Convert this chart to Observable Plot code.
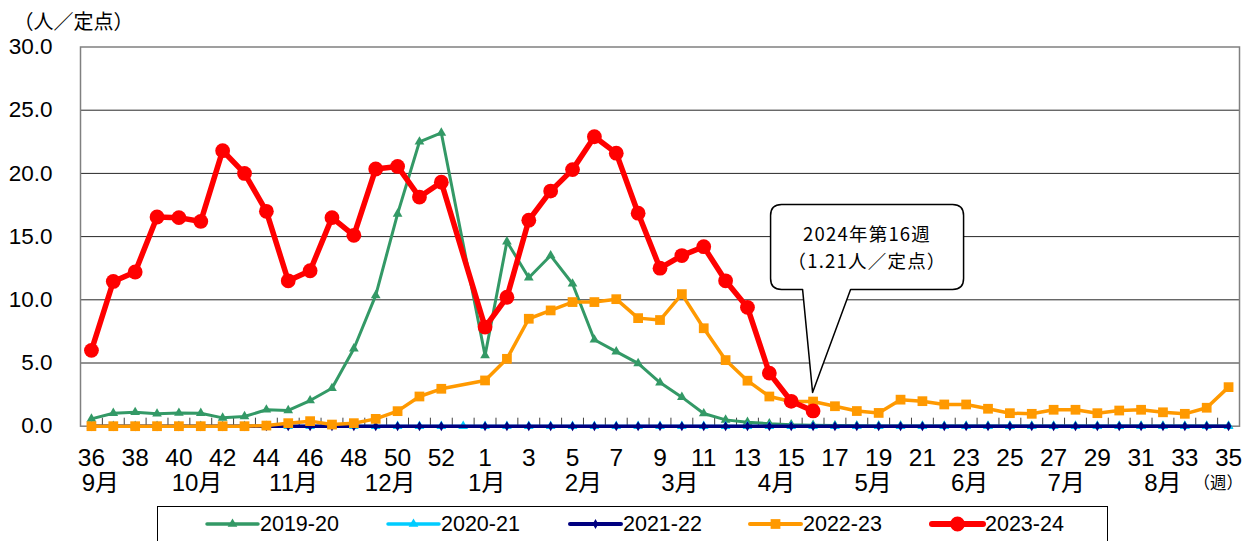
<!DOCTYPE html>
<html><head><meta charset="utf-8">
<script src="https://cdn.jsdelivr.net/npm/d3@7"></script>
<script src="https://cdn.jsdelivr.net/npm/@observablehq/plot@0.6"></script>
<style>
body{margin:0;background:#fff;}
#wrap{position:relative;width:1244px;height:541px;overflow:hidden;background:#fff;font-family:"Liberation Sans",Arial,"Noto Sans CJK JP",sans-serif;}
#chart{position:absolute;left:0;top:0;}
#legend{position:absolute;left:0;top:0;}
</style></head>
<body><div id="wrap"><div id="chart"></div><svg id="legend" width="1244" height="541"></svg></div>
<script>
// ---- data ----
const weeks = [36,37,38,39,40,41,42,43,44,45,46,47,48,49,50,51,52,53,1,2,3,4,5,6,7,8,9,10,11,12,13,14,15,16,17,18,19,20,21,22,23,24,25,26,27,28,29,30,31,32,33,34,35];
const tickLabels = [36,38,40,42,44,46,48,50,52,1,3,5,7,9,11,13,15,17,19,21,23,25,27,29,31,33,35];
const monthLabels = ["9月","10月","11月","12月","1月","2月","3月","4月","5月","6月","7月","8月"];
const seasonNames = ["2019-20","2020-21","2021-22","2022-23","2023-24"];

const v2019_20 = [0.58,1.03,1.1,0.98,1.04,1.03,0.66,0.77,1.3,1.25,2.03,3.0,6.13,10.35,16.8,22.5,23.2,null,
  5.6,14.6,11.75,13.5,11.27,6.84,5.9,4.97,3.45,2.3,1.0,0.5,0.32,0.2,0.12,0.08,0.05,0.03,0.02,0.02,0.01,0.01,0.01,0.01,0.01,0.01,0.01,0.01,0.01,0.01,0.01,0.01,0.01,0.01,0.01];
const v2020_21 = [0,0,0,0,0,0,0,0,0,0,0,0,0,0,0,0,0,0,
  0,0,0,0,0,0,0,0,0,0,0,0,0,0,0,0,0,0,0,0,0,0,0,0,0,0,0,0,0,0,0,0,0,0,0];
const v2021_22 = [0,0,0,0,0,0,0,0,0,0,0,0,0,0,0,0,0,null,
  0,0,0,0,0,0,0,0,0,0,0,0,0,0,0,0,0,0,0,0,0,0,0,0,0,0,0,0,0,0,0,0,0,0,0];
const v2022_23 = [0,0,0,0,0,0,0,0,0.05,0.24,0.4,0.13,0.24,0.58,1.19,2.35,2.96,null,
  3.62,5.33,8.5,9.16,9.82,9.82,10.05,8.55,8.4,10.45,7.75,5.23,3.6,2.35,1.95,1.95,1.58,1.2,1.05,2.1,1.98,1.72,1.72,1.38,1.03,0.98,1.3,1.3,1.03,1.24,1.3,1.1,0.98,1.46,3.09];
const v2023_24 = [6.0,11.45,12.2,16.55,16.5,16.2,21.8,20.0,17.0,11.5,12.3,16.5,15.1,20.35,20.55,18.13,19.3,null,
  7.84,10.2,16.3,18.6,20.3,22.9,21.6,16.85,12.5,13.5,14.2,11.5,9.4,4.2,1.97,1.21,
  null,null,null,null,null,null,null,null,null,null,null,null,null,null,null,null,null,null,null];
const calloutLines = ["2024年第16週","（1.21人／定点）"];
const calloutWeek = 16;
const calloutValue = 1.21;
const yTicks = [0,5,10,15,20,25,30];

// ---- styles ----
const styles = [
  {color:"#339966", symbol:"triangle", r:3.6, sw:3},
  {color:"#00CCFF", symbol:"triangle", r:3.6, sw:3},
  {color:"#000080", symbol:"diamond", r:3, sw:3.5},
  {color:"#FF9900", symbol:"square", r:5.5, sw:3.5},
  {color:"#FF0000", symbol:"circle", r:7.4, sw:5.5}
];
const allValues = [v2019_20, v2020_21, v2021_22, v2022_23, v2023_24];
const pts = vals => vals.map((v,i)=>({i, v})).filter(d => d.v != null);

const FONT = '"Liberation Sans", Arial, "Noto Sans CJK JP", sans-serif';
const CJK = '"Noto Sans CJK JP", "Liberation Sans", sans-serif';
const H = 505;

const marks = [
  Plot.gridY(yTicks.filter(t => t > 0 && t < 30), {stroke:"#000", strokeOpacity:0.85, strokeWidth:1}),
  Plot.frame({stroke:"#808080", strokeWidth:1.5}),
  Plot.axisX(d3.range(0.5, weeks.length - 1, 1), {tickSize:8, dy:-8, tickFormat:() => "", stroke:"#404040", label:null}),
  Plot.axisX(tickLabels.map(w => weeks.indexOf(w)), {tickSize:0, tickPadding:22, tickFormat: i => String(weeks[i]), fontSize:24.5, fill:"#000", label:null}),
  Plot.axisY(yTicks, {tickSize:0, tickPadding:28, tickFormat: d => d.toFixed(1), fontSize:22.5, fill:"#000", label:null}),
  Plot.text(monthLabels, {x:(d,k) => 0.41 + k*weeks.length/12, frameAnchor:"bottom", dy:48, lineAnchor:"top", fontSize:24, fill:"#000"}),
  Plot.text(["（週）"], {frameAnchor:"bottom-right", dx:-46, dy:58, textAnchor:"start", lineAnchor:"middle", fontSize:16.5, fontFamily:CJK, fill:"#000"}),
  Plot.text(["（人／定点）"], {frameAnchor:"top-left", dx:-67, dy:-24, textAnchor:"start", lineAnchor:"middle", fontSize:20, fontFamily:CJK, fill:"#000"})
];
allValues.forEach((vals, k) => {
  const s = styles[k];
  marks.push(Plot.line(pts(vals), {x:"i", y:"v", stroke:s.color, strokeWidth:s.sw, strokeLinejoin:"round"}));
  marks.push(Plot.dot(pts(vals), {x:"i", y:"v", symbol:s.symbol, r:s.r, fill:s.color, stroke:"none"}));
});

const chart = Plot.plot({
  width:1244, height:H,
  marginLeft:80, marginRight:5, marginTop:46.5, marginBottom:H - 425.7,
  x:{type:"linear", domain:[-0.5, weeks.length - 0.5]},
  y:{domain:[0,30]},
  style:{fontFamily:FONT, background:"white", overflow:"visible", color:"#000"},
  marks
});
document.getElementById("chart").appendChild(chart);

// ---- callout (positioned through the chart's scales) ----
const xs = chart.scale("x"), ys = chart.scale("y");
const tx = xs.apply(weeks.indexOf(calloutWeek));
const ty = ys.apply(calloutValue) - 18;
const L = tx - 42, R = tx + 151, T = ty - 188, B = ty - 103, rr = 11;
const b1 = tx - 10, b2 = tx + 38;
const svg = d3.select(chart);
const g = svg.append("g");
g.append("path")
  .attr("d", `M${L+rr},${T}H${R-rr}Q${R},${T} ${R},${T+rr}V${B-rr}Q${R},${B} ${R-rr},${B}H${b2}L${tx},${ty}L${b1},${B}H${L+rr}Q${L},${B} ${L},${B-rr}V${T+rr}Q${L},${T} ${L+rr},${T}Z`)
  .attr("fill","#fff").attr("stroke","#000").attr("stroke-width",1.5).attr("stroke-linejoin","round");
calloutLines.forEach((t, k) => {
  g.append("text").attr("x", (L+R)/2).attr("y", T + 29 + k*27)
    .attr("text-anchor","middle").attr("dominant-baseline","central")
    .attr("font-family", CJK).attr("font-size", 18.5).attr("letter-spacing", 1.2)
    .attr("fill","#000").text(t);
});

// ---- legend (below the chart) ----
const lg = d3.select("#legend");
lg.append("rect").attr("x",157.5).attr("y",506.5).attr("width",950).attr("height",60)
  .attr("fill","#fff").attr("stroke","#000").attr("stroke-width",1);
const itemX = [207, 388, 570, 750, 932];
seasonNames.forEach((name, k) => {
  const s = styles[k];
  const x0 = itemX[k], cy = 524;
  lg.append("line").attr("x1",x0).attr("x2",x0+51).attr("y1",cy).attr("y2",cy)
    .attr("stroke",s.color).attr("stroke-width",s.sw + 0.5).attr("stroke-linecap","round");
  const sym = {triangle:d3.symbolTriangle, diamond:d3.symbolDiamond, square:d3.symbolSquare, circle:d3.symbolCircle}[s.symbol];
  lg.append("path").attr("transform",`translate(${x0+25.5},${cy})`)
    .attr("d", d3.symbol(sym, Math.PI*s.r*s.r)()).attr("fill",s.color);
  lg.append("text").attr("x",x0+53).attr("y",cy).attr("dominant-baseline","central")
    .attr("font-family",FONT).attr("font-size",21.5).attr("fill","#000").text(name);
});
</script>
</body></html>
